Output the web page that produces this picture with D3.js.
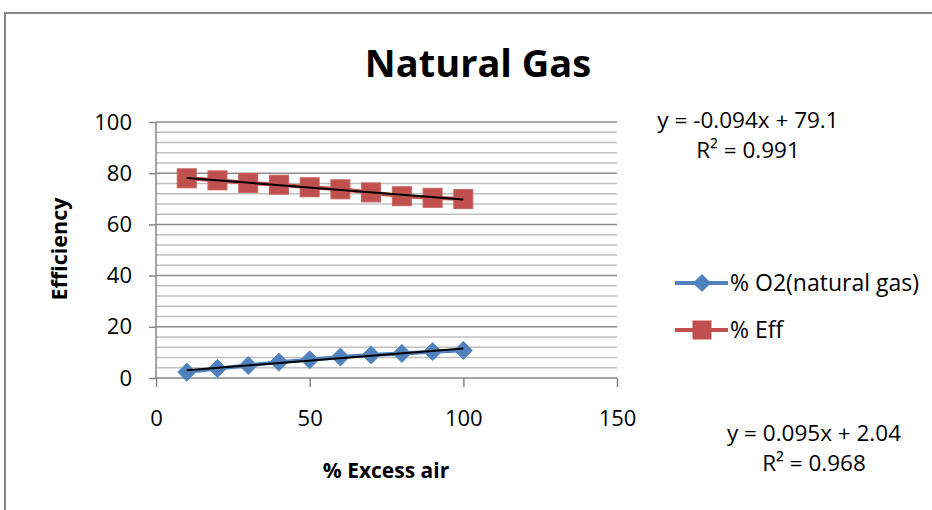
<!DOCTYPE html>
<html>
<head>
<meta charset="utf-8">
<script src="https://cdn.jsdelivr.net/npm/d3@7"></script>
<style>
  body { margin: 0; background: #fff; }
  svg { display: block; font-family: "Open Sans", sans-serif; }
</style>
</head>
<body>
<svg id="chart"></svg>
<script>
// data
var excessAir = [10, 20, 30, 40, 50, 60, 70, 80, 90, 100];
var o2Values = [2.3, 3.7, 4.9, 6.2, 7.1, 8.2, 9.0, 9.6, 10.3, 10.8];
var effValues = [78.0, 77.2, 76.2, 75.5, 74.5, 73.7, 72.5, 71.0, 70.4, 69.9];
var seriesNames = ["% O2(natural gas)", "% Eff"];
var xTicks = [0, 50, 100, 150];
var yTicks = [0, 20, 40, 60, 80, 100];
// trendline coefficients [slope, intercept]
var o2Fit = [0.095, 2.04];
var effFit = [-0.094, 79.1];
var fitLabels = [["y = -0.094x + 79.1", "R² = 0.991"], ["y = 0.095x + 2.04", "R² = 0.968"]];

var W = 932, H = 510;
var blue = "#4F81BD", red = "#C0504D";

var svg = d3.select("#chart").attr("width", W).attr("height", H);

// chart area border (cropped at right/bottom)
svg.append("rect")
  .attr("x", 5).attr("y", 13)
  .attr("width", W + 20).attr("height", H + 20)
  .attr("fill", "none").attr("stroke", "#868686").attr("stroke-width", 2);

var x = d3.scaleLinear().domain([0, 150]).range([156, 617]);
var y = d3.scaleLinear().domain([0, 100]).range([378, 122]);

// gridlines: minor every 4, major every 20
var minor = d3.range(4, 100, 4).filter(function (v) { return v % 20 !== 0; });
svg.append("g").selectAll("line").data(minor).enter().append("line")
  .attr("x1", x(0)).attr("x2", x(150))
  .attr("y1", function (d) { return y(d); }).attr("y2", function (d) { return y(d); })
  .attr("stroke", "#c0c0c0").attr("stroke-width", 1.5);
svg.append("g").selectAll("line").data(yTicks.slice(1)).enter().append("line")
  .attr("x1", x(0)).attr("x2", x(150))
  .attr("y1", function (d) { return y(d); }).attr("y2", function (d) { return y(d); })
  .attr("stroke", "#8c8c8c").attr("stroke-width", 1.5);

// axes
var xAxis = d3.axisBottom(x).tickValues(xTicks).tickSize(9).tickPadding(23);
var yAxis = d3.axisLeft(y).tickValues(yTicks).tickSize(7).tickPadding(17);

var gx = svg.append("g").attr("transform", "translate(0," + y(0) + ")").call(xAxis);
var gy = svg.append("g").attr("transform", "translate(" + x(0) + ",0)").call(yAxis);
[gx, gy].forEach(function (g) {
  g.select(".domain").attr("stroke", "#868686").attr("stroke-width", 1.5);
  g.selectAll(".tick line").attr("stroke", "#868686").attr("stroke-width", 1.5);
  g.selectAll(".tick text").attr("fill", "#000").style("font-size", "22px")
    .style("font-family", "'Open Sans', sans-serif");
});
gy.select(".domain").attr("d", "M0," + y(0) + "V" + y(100));
gx.select(".domain").attr("d", "M" + x(0) + ",0H" + x(150));

// series lines + markers
var line = d3.line()
  .x(function (d) { return x(d[0]); })
  .y(function (d) { return y(d[1]); });

var o2Pts = excessAir.map(function (v, i) { return [v, o2Values[i]]; });
var effPts = excessAir.map(function (v, i) { return [v, effValues[i]]; });

svg.append("path").datum(o2Pts).attr("d", line)
  .attr("fill", "none").attr("stroke", blue).attr("stroke-width", 4);
svg.append("path").datum(effPts).attr("d", line)
  .attr("fill", "none").attr("stroke", red).attr("stroke-width", 4);

var diamond = d3.symbol().type(d3.symbolDiamond2).size(210);
svg.append("g").selectAll("path").data(o2Pts).enter().append("path")
  .attr("d", diamond)
  .attr("transform", function (d) { return "translate(" + x(d[0]) + "," + y(d[1]) + ")"; })
  .attr("fill", blue).attr("stroke", "#5a8ac6").attr("stroke-width", 1);

svg.append("g").selectAll("rect").data(effPts).enter().append("rect")
  .attr("x", function (d) { return x(d[0]) - 9.5; })
  .attr("y", function (d) { return y(d[1]) - 9.5; })
  .attr("width", 19).attr("height", 19)
  .attr("fill", red).attr("stroke", "#c9605d").attr("stroke-width", 1);

// linear trendlines
[o2Fit, effFit].forEach(function (f) {
  svg.append("line")
    .attr("x1", x(excessAir[0])).attr("y1", y(f[0] * excessAir[0] + f[1]))
    .attr("x2", x(excessAir[excessAir.length - 1]))
    .attr("y2", y(f[0] * excessAir[excessAir.length - 1] + f[1]))
    .attr("stroke", "#000").attr("stroke-width", 2);
});

// title and axis titles
svg.append("text").attr("x", 478).attr("y", 77).attr("text-anchor", "middle")
  .style("font-size", "38px").style("font-weight", "bold").text("Natural Gas");
svg.append("text").attr("x", 386).attr("y", 478).attr("text-anchor", "middle")
  .style("font-size", "21px").style("font-weight", "bold").text("% Excess air");
svg.append("text").attr("transform", "translate(67,249) rotate(-90)")
  .attr("text-anchor", "middle")
  .style("font-size", "21.5px").style("font-weight", "bold").text("Efficiency");

// legend
var legend = svg.append("g");
var legendY = [283, 330];
seriesNames.forEach(function (name, i) {
  var col = i === 0 ? blue : red;
  legend.append("line").attr("x1", 675).attr("x2", 728)
    .attr("y1", legendY[i]).attr("y2", legendY[i])
    .attr("stroke", col).attr("stroke-width", 4);
  if (i === 0) {
    legend.append("path").attr("d", diamond)
      .attr("transform", "translate(702," + legendY[i] + ")").attr("fill", col);
  } else {
    legend.append("rect").attr("x", 692.5).attr("y", legendY[i] - 9.5)
      .attr("width", 19).attr("height", 19).attr("fill", col);
  }
  legend.append("text").attr("x", 730).attr("y", legendY[i]).attr("dy", "0.35em")
    .style("font-size", "23px").text(name);
});

// trendline equations
var eqPos = [[748, 128], [814, 441]];
fitLabels.forEach(function (lines, i) {
  lines.forEach(function (t, j) {
    svg.append("text").attr("x", eqPos[i][0]).attr("y", eqPos[i][1] + j * 30)
      .attr("text-anchor", "middle").style("font-size", "22.5px").text(t);
  });
});
</script>
</body>
</html>
